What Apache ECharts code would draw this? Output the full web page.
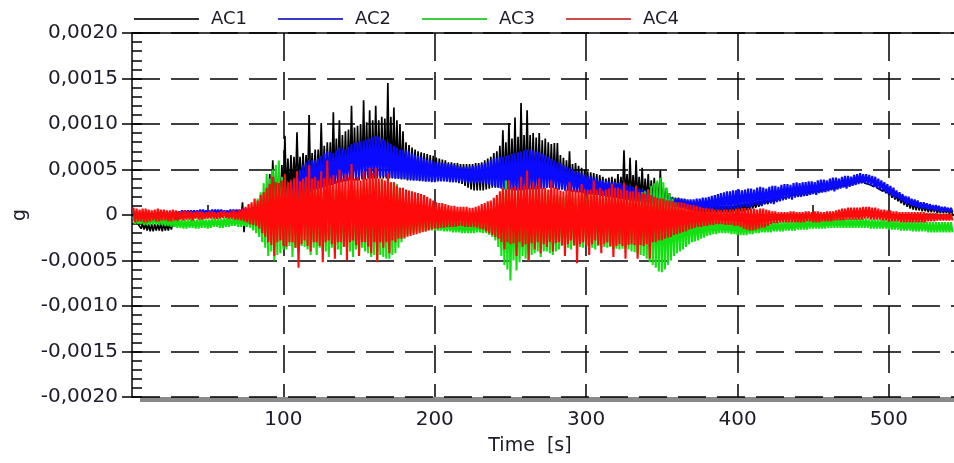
<!DOCTYPE html>
<html>
<head>
<meta charset="utf-8">
<script src="https://cdn.jsdelivr.net/npm/echarts@6/dist/echarts.min.js"></script>
<style>
  html, body { margin: 0; padding: 0; background: #fff; }
  #chart { width: 954px; height: 463px; }
</style>
</head>
<body>
<div id="chart"></div>
<script>
// Four accelerometer channels. Each trace is stored as an envelope sampled every 2 s
// starting at t = 1 s: the upper and lower extreme reached in that slot, in 1e-5 g.
// One row = 40 s.
const SAMPLE_START = 1;
const SAMPLE_STEP = 2;
const UNIT = 1e-5;

const ac1Hi = [
  2, -4, -8, -9, -9, -10, -10, -10, -10, -9, -9, -10, -9, -8, -3, -1, 0, 1, 1, 1,
  1, 1, 2, 2, 1, 1, 2, 2, 2, 2, 3, 3, 3, 3, 4, 4, 14, 4, 5, 6,
  8, 12, 15, 25, 30, 45, 60, 48, 50, 55, 87, 62, 66, 64, 91, 64, 68, 66, 110, 68,
  72, 72, 101, 76, 80, 80, 113, 84, 104, 88, 92, 94, 120, 96, 98, 100, 126, 102, 115, 104,
  120, 104, 108, 106, 145, 108, 118, 104, 100, 92, 80, 77, 74, 72, 70, 69, 68, 67, 66, 65,
  63, 62, 61, 60, 58, 58, 57, 57, 56, 56, 56, 56, 56, 57, 57, 58, 60, 62, 64, 68,
  70, 76, 93, 80, 101, 84, 107, 86, 123, 88, 115, 88, 90, 85, 90, 82, 84, 80, 78, 79,
  79, 66, 63, 60, 70, 56, 57, 54, 52, 50, 48, 47, 46, 45, 44, 42, 40, 41, 42, 40,
  45, 42, 71, 45, 63, 44, 60, 42, 52, 40, 45, 38, 41, 36, 49, 30, 30, 24, 20, 19,
  19, 18, 18, 16, 15, 13, 12, 11, 10, 10, 10, 10, 10, 10, 10, 10, 10, 10, 10, 11,
  12, 12, 13, 13, 14, 14, 15, 15, 16, 16, 17, 17, 18, 18, 19, 19, 20, 21, 22, 23,
  25, 25, 26, 26, 27, 27, 28, 28, 29, 30, 31, 31, 32, 33, 34, 34, 35, 36, 37, 37,
  38, 38, 37, 36, 35, 34, 32, 30, 29, 27, 26, 24, 22, 20, 19, 17, 16, 15, 14, 13,
  12, 11, 10, 10, 9, 9, 8, 8, 7, 7, 6
];
const ac1Lo = [
  -4, -10, -15, -16, -17, -18, -18, -17, -17, -18, -17, -17, -16, -13, -8, -4, -3, -2, -2, -2,
  -2, -2, -2, -2, -2, -1, -1, -1, -1, 0, 0, -1, -1, -2, -2, -3, -19, -2, -1, 0,
  0, 1, 2, 4, 5, 8, 10, 12, 15, 18, 20, 22, 25, 27, 28, 29, 30, 31, 32, 32,
  32, 33, 33, 34, 34, 35, 35, 36, 36, 37, 37, 38, 38, 38, 38, 39, 39, 40, 40, 40,
  40, 40, 40, 40, 40, 40, 40, 40, 39, 39, 38, 38, 38, 38, 37, 37, 37, 37, 36, 36,
  38, 38, 38, 37, 37, 36, 36, 35, 34, 32, 30, 28, 27, 27, 27, 27, 28, 29, 30, 30,
  30, 30, 30, 29, 28, 28, 28, 28, 28, 28, 29, 29, 29, 30, 30, 30, 30, 30, 30, 29,
  28, 28, 27, 27, 26, 26, 25, 25, 24, 24, 23, 23, 22, 22, 21, 21, 20, 20, 19, 19,
  18, 18, 17, 17, 16, 16, 15, 15, 14, 14, 13, 13, 12, 12, 11, 11, 10, 10, 9, 9,
  8, 8, 7, 6, 5, 4, 4, 3, 3, 3, 3, 3, 3, 3, 3, 3, 3, 3, 4, 4,
  4, 4, 5, 6, 7, 8, 9, 10, 12, 12, 13, 14, 15, 16, 17, 18, 19, 19, 20, 20,
  21, 21, 22, 23, 24, 24, 25, 25, 26, 27, 28, 28, 29, 30, 31, 31, 32, 33, 34, 35,
  35, 35, 34, 33, 31, 30, 28, 26, 24, 22, 19, 17, 15, 13, 11, 9, 7, 6, 5, 5,
  4, 4, 3, 3, 3, 2, 2, 2, 2, 1, 1
];

const ac2Hi = [
  2, 2, 2, 2, 3, 3, 2, 2, 3, 3, 3, 3, 3, 3, 4, 4, 5, 5, 5, 5,
  5, 5, 6, 6, 5, 5, 6, 6, 6, 6, 5, 5, 6, 6, 6, 6, 7, 7, 7, 8,
  8, 9, 10, 12, 14, 16, 18, 20, 22, 25, 28, 31, 35, 40, 45, 50, 55, 58, 60, 60,
  60, 62, 65, 68, 70, 69, 68, 71, 74, 73, 72, 75, 78, 79, 80, 81, 82, 83, 84, 86,
  87, 86, 84, 82, 80, 78, 76, 74, 72, 72, 71, 70, 68, 66, 65, 64, 62, 61, 60, 59,
  58, 58, 57, 57, 56, 56, 55, 54, 53, 53, 53, 53, 54, 54, 55, 56, 57, 58, 60, 62,
  63, 64, 64, 65, 66, 67, 68, 69, 70, 71, 72, 72, 71, 70, 69, 68, 66, 64, 62, 60,
  58, 57, 55, 53, 52, 50, 48, 47, 46, 44, 43, 42, 41, 40, 38, 38, 37, 37, 36, 36,
  35, 35, 34, 33, 32, 31, 30, 29, 28, 27, 26, 25, 24, 23, 22, 21, 20, 20, 19, 18,
  18, 18, 17, 17, 17, 17, 18, 18, 19, 19, 20, 21, 22, 23, 24, 25, 26, 26, 27, 27,
  28, 27, 28, 29, 29, 28, 30, 31, 30, 29, 31, 32, 32, 31, 33, 34, 34, 33, 35, 36,
  35, 36, 36, 37, 37, 36, 38, 39, 39, 38, 40, 41, 41, 40, 42, 43, 43, 42, 44, 45,
  46, 45, 45, 44, 43, 42, 40, 38, 36, 34, 32, 30, 27, 25, 23, 21, 20, 18, 17, 16,
  14, 14, 13, 12, 11, 11, 10, 9, 9, 8, 8
];
const ac2Lo = [
  -2, -2, -2, -2, -2, -2, -1, -1, -1, -1, -1, -1, 0, 0, 0, 0, 1, 1, 1, 1,
  1, 1, 1, 1, 1, 1, 1, 1, 1, 1, 1, 1, 1, 1, 2, 2, 2, 2, 2, 2,
  2, 1, 0, -1, -2, -1, 0, 1, 2, 3, 5, 7, 10, 12, 15, 17, 20, 22, 25, 27,
  28, 29, 30, 31, 32, 33, 34, 35, 36, 37, 38, 39, 40, 40, 40, 41, 42, 42, 42, 42,
  42, 42, 42, 42, 41, 41, 40, 40, 40, 40, 39, 39, 38, 38, 38, 38, 37, 37, 37, 37,
  37, 37, 37, 37, 36, 36, 36, 36, 36, 36, 35, 35, 35, 35, 35, 35, 34, 33, 32, 31,
  30, 29, 28, 28, 28, 27, 27, 27, 27, 28, 28, 28, 28, 28, 29, 29, 30, 30, 30, 29,
  28, 28, 27, 27, 26, 26, 25, 25, 24, 24, 23, 23, 22, 22, 21, 21, 20, 20, 19, 19,
  18, 18, 17, 17, 16, 16, 15, 15, 14, 14, 13, 13, 12, 12, 11, 11, 10, 10, 9, 9,
  8, 8, 7, 7, 6, 6, 6, 6, 5, 5, 5, 5, 5, 5, 6, 6, 6, 6, 7, 7,
  8, 9, 9, 8, 10, 11, 11, 10, 12, 13, 13, 12, 14, 15, 16, 17, 18, 17, 19, 20,
  20, 21, 21, 22, 23, 22, 24, 25, 25, 26, 27, 26, 28, 29, 30, 29, 31, 32, 33, 34,
  35, 35, 34, 33, 31, 30, 28, 27, 25, 23, 21, 19, 18, 16, 14, 12, 11, 10, 9, 8,
  7, 7, 6, 6, 5, 5, 4, 4, 4, 3, 3
];

const ac3Hi = [
  -2, -2, -3, -3, -3, -4, -4, -4, -3, -3, -4, -4, -4, -5, -5, -5, -5, -5, -5, -5,
  -5, -5, -4, -4, -5, -5, -4, -4, -4, -4, -3, -3, -3, -3, -2, -2, -2, -1, 0, 4,
  10, 18, 25, 35, 45, 40, 50, 55, 60, 42, 40, 32, 35, 30, 30, 28, 38, 30, 28, 30,
  30, 28, 25, 27, 35, 28, 28, 26, 30, 27, 25, 28, 30, 27, 28, 29, 32, 30, 30, 32,
  35, 36, 38, 34, 32, 36, 36, 34, 30, 22, 15, 10, 8, 6, 4, 3, 2, 1, 0, -2,
  -6, -6, -7, -7, -7, -8, -8, -8, -8, -8, -8, -7, -7, -6, -6, -5, -4, -2, 0, 4,
  10, 20, 30, 38, 35, 28, 25, 26, 28, 24, 20, 22, 30, 24, 22, 22, 26, 22, 20, 22,
  22, 20, 20, 22, 25, 20, 18, 20, 22, 20, 20, 21, 24, 20, 18, 19, 20, 21, 22, 20,
  20, 19, 18, 20, 22, 21, 20, 23, 25, 26, 28, 32, 35, 38, 41, 36, 30, 24, 18, 14,
  10, 8, 5, 3, 2, 0, -2, -3, -4, -5, -6, -6, -7, -7, -7, -8, -8, -8, -8, -9,
  -9, -9, -9, -10, -10, -10, -10, -9, -9, -9, -9, -8, -8, -8, -8, -7, -7, -7, -7, -6,
  -6, -6, -6, -5, -5, -5, -5, -5, -5, -4, -4, -4, -4, -4, -4, -4, -4, -4, -4, -4,
  -4, -4, -4, -5, -5, -5, -5, -5, -5, -6, -6, -6, -6, -7, -7, -7, -7, -7, -7, -7,
  -7, -7, -8, -8, -8, -8, -8, -8, -8, -8, -8
];
const ac3Lo = [
  -10, -10, -10, -11, -11, -11, -10, -10, -11, -11, -12, -12, -13, -13, -14, -14, -15, -15, -14, -14,
  -15, -15, -14, -14, -15, -14, -13, -13, -14, -14, -13, -13, -12, -12, -13, -13, -12, -13, -14, -17,
  -20, -24, -30, -36, -45, -40, -50, -44, -42, -38, -38, -34, -46, -36, -40, -34, -35, -38, -44, -36,
  -44, -36, -38, -40, -46, -36, -40, -38, -44, -35, -36, -40, -46, -38, -42, -36, -40, -42, -46, -44,
  -50, -44, -46, -48, -48, -44, -42, -36, -30, -26, -22, -21, -20, -19, -18, -18, -18, -17, -17, -17,
  -17, -17, -18, -18, -18, -19, -19, -19, -20, -20, -20, -20, -20, -19, -19, -20, -20, -22, -24, -28,
  -35, -45, -55, -60, -72, -50, -61, -52, -45, -48, -50, -44, -42, -40, -46, -40, -40, -42, -44, -40,
  -38, -34, -33, -36, -38, -34, -32, -35, -36, -34, -34, -36, -38, -34, -33, -35, -36, -35, -38, -37,
  -38, -37, -36, -38, -40, -41, -42, -44, -45, -48, -52, -55, -58, -62, -63, -60, -55, -50, -45, -42,
  -40, -38, -35, -32, -30, -29, -28, -26, -25, -23, -22, -21, -21, -20, -20, -20, -20, -21, -21, -22,
  -22, -22, -22, -21, -21, -20, -20, -19, -19, -19, -19, -18, -18, -18, -18, -17, -17, -17, -17, -16,
  -16, -16, -16, -15, -15, -15, -15, -15, -15, -14, -14, -14, -14, -14, -14, -14, -14, -14, -14, -14,
  -14, -14, -14, -15, -15, -15, -15, -15, -15, -16, -16, -16, -16, -17, -17, -17, -17, -18, -18, -18,
  -18, -18, -19, -19, -19, -19, -19, -19, -19, -19, -19
];

const ac4Hi = [
  8, 7, 6, 7, 7, 6, 5, 6, 7, 6, 6, 5, 5, 6, 5, 4, 4, 5, 4, 4,
  3, 4, 4, 3, 3, 4, 4, 3, 3, 4, 4, 3, 4, 5, 4, 6, 7, 9, 12, 14,
  18, 16, 22, 25, 30, 34, 42, 36, 35, 38, 45, 36, 38, 40, 48, 37, 40, 42, 55, 40,
  42, 38, 48, 40, 60, 40, 44, 38, 50, 40, 45, 42, 56, 40, 42, 38, 48, 40, 52, 46,
  52, 40, 40, 38, 46, 36, 36, 32, 30, 30, 28, 27, 26, 25, 24, 23, 22, 20, 18, 16,
  14, 13, 13, 12, 11, 10, 10, 9, 9, 9, 9, 8, 8, 9, 10, 12, 13, 15, 16, 19,
  22, 26, 30, 28, 38, 30, 32, 30, 42, 32, 49, 30, 36, 32, 40, 30, 30, 28, 38, 30,
  30, 27, 26, 28, 36, 28, 28, 27, 34, 28, 27, 28, 38, 28, 30, 27, 28, 29, 34, 30,
  30, 28, 35, 27, 26, 26, 32, 25, 24, 24, 28, 22, 20, 19, 18, 18, 16, 16, 15, 14,
  14, 14, 13, 12, 11, 11, 10, 9, 8, 8, 7, 7, 6, 6, 5, 6, 6, 6, 6, 7,
  7, 8, 8, 7, 7, 7, 6, 7, 7, 6, 5, 4, 4, 3, 3, 3, 3, 4, 4, 3,
  3, 3, 4, 4, 3, 4, 4, 3, 3, 4, 4, 4, 5, 6, 7, 7, 8, 8, 8, 8,
  8, 9, 9, 9, 8, 8, 7, 6, 6, 5, 5, 4, 4, 3, 3, 3, 3, 3, 3, 3,
  3, 3, 2, 2, 2, 2, 1, 1, 1, 1, 1
];
const ac4Lo = [
  -8, -7, -7, -8, -8, -7, -6, -7, -7, -6, -6, -7, -7, -6, -6, -5, -6, -5, -5, -6,
  -4, -5, -5, -4, -4, -4, -4, -4, -4, -3, -3, -4, -4, -5, -5, -6, -7, -8, -10, -11,
  -12, -15, -20, -24, -30, -33, -45, -30, -28, -34, -35, -30, -30, -36, -58, -32, -28, -34, -40, -30,
  -30, -34, -52, -30, -28, -32, -48, -30, -30, -35, -50, -30, -28, -33, -45, -30, -30, -35, -42, -30,
  -52, -30, -36, -30, -42, -28, -30, -26, -26, -25, -24, -23, -22, -21, -20, -19, -18, -17, -16, -15,
  -15, -14, -14, -13, -13, -13, -13, -12, -12, -13, -13, -13, -13, -14, -15, -16, -18, -20, -22, -24,
  -26, -30, -38, -30, -32, -31, -45, -30, -35, -32, -50, -31, -38, -30, -42, -32, -35, -30, -40, -31,
  -30, -33, -45, -32, -28, -33, -53, -32, -30, -34, -44, -32, -28, -33, -42, -32, -30, -34, -46, -34,
  -32, -34, -48, -33, -32, -33, -48, -33, -34, -32, -48, -30, -30, -28, -28, -26, -25, -24, -22, -21,
  -20, -19, -18, -16, -15, -14, -13, -13, -12, -12, -11, -11, -10, -10, -10, -11, -11, -11, -12, -12,
  -13, -15, -16, -17, -17, -16, -15, -14, -14, -12, -10, -9, -9, -8, -8, -8, -8, -8, -8, -8,
  -8, -8, -7, -7, -8, -8, -8, -7, -7, -7, -7, -6, -6, -6, -6, -5, -5, -5, -5, -5,
  -5, -4, -4, -5, -5, -5, -5, -6, -6, -7, -7, -7, -7, -8, -8, -8, -8, -8, -8, -8,
  -8, -8, -7, -7, -7, -6, -6, -6, -6, -6, -6
];

const seriesNames = ['AC1', 'AC2', 'AC3', 'AC4'];
const seriesColors = ['#000000', '#0a0aff', '#12e012', '#ff0a0a'];
const seriesWidths = [1.7, 2.1, 2.1, 2.1];
const legendColors = ['#303030', '#3a3ad0', '#3ccc3c', '#cc4a4a'];
const xMajorTicks = [100, 200, 300, 400, 500];
const xMinorTicks = [50, 150, 250, 350, 450];

// Turn an envelope into a dense zig-zag trace: upper extreme, then lower extreme half a slot later.
function trace(hi, lo) {
  const pts = [];
  for (let i = 0; i < hi.length; i++) {
    const t = SAMPLE_START + i * SAMPLE_STEP;
    pts.push([t, hi[i] * UNIT]);
    pts.push([t + SAMPLE_STEP / 2, lo[i] * UNIT]);
  }
  return pts;
}

const envelopes = [[ac1Hi, ac1Lo], [ac2Hi, ac2Lo], [ac3Hi, ac3Lo], [ac4Hi, ac4Lo]];
const FONT = 'DejaVu Sans';
const TEXT = '#1c1c2a';
const frameLine = { color: '#000', width: 1.5 };
const dashed = { color: '#000', width: 1.5, type: [28, 11] };

const chart = echarts.init(document.getElementById('chart'), null, { renderer: 'canvas' });

chart.setOption({
  animation: false,
  backgroundColor: '#ffffff',
  legend: {
    left: 129,
    top: 5,
    icon: 'rect',
    itemWidth: 65,
    itemHeight: 2,
    itemGap: 31,
    textStyle: { fontFamily: FONT, fontSize: 18, color: TEXT, padding: [3, 0, 0, 7] },
    data: seriesNames.map((n, i) => ({ name: n, itemStyle: { color: legendColors[i] } })),
    selectedMode: false
  },
  // White plot background whose drop shadow shows as the grey band under the time axis.
  grid: {
    left: 132,
    right: -2,
    top: 33,
    bottom: 66,
    show: true,
    backgroundColor: '#ffffff',
    borderWidth: 0,
    shadowColor: '#8a8a8a',
    shadowBlur: 0,
    shadowOffsetX: 8,
    shadowOffsetY: 5
  },
  xAxis: [
    {
      type: 'value',
      min: 0,
      max: 543,
      interval: 100,
      axisLine: { show: true, lineStyle: frameLine },
      axisTick: { show: true, inside: false, length: 10, customValues: xMajorTicks, lineStyle: frameLine },
      axisLabel: {
        customValues: xMajorTicks,
        fontFamily: FONT, fontSize: 20, color: TEXT, margin: 13
      },
      splitLine: { show: true, lineStyle: dashed },
      name: 'Time  [s]',
      nameLocation: 'middle',
      nameGap: 40,
      nameTextStyle: { fontFamily: FONT, fontSize: 19, color: TEXT, padding: [0, 26, 0, 0] }
    },
    {
      type: 'value',
      min: 0,
      max: 543,
      position: 'bottom',
      axisLine: { show: false },
      axisTick: { show: true, inside: true, length: 10, customValues: xMinorTicks, lineStyle: frameLine },
      axisLabel: { show: false },
      splitLine: { show: false }
    },
    {
      // top frame edge
      type: 'value',
      min: 0,
      max: 543,
      position: 'top',
      axisLine: { show: true, lineStyle: frameLine },
      axisTick: { show: false },
      axisLabel: { show: false },
      splitLine: { show: false }
    }
  ],
  yAxis: [
    {
      type: 'value',
      min: -0.002,
      max: 0.002,
      interval: 0.0005,
      axisLine: { show: true, lineStyle: frameLine },
      axisTick: { show: true, inside: false, length: 10, lineStyle: frameLine },
      axisLabel: {
        fontFamily: FONT, fontSize: 20, color: TEXT, margin: 14,
        formatter: v => (Math.abs(v) < 1e-12 ? '0' : v.toFixed(4).replace('.', ','))
      },
      splitLine: { show: true, lineStyle: dashed },
      name: 'g',
      nameLocation: 'middle',
      nameGap: 100,
      nameRotate: 90,
      nameTextStyle: { fontFamily: FONT, fontSize: 19, color: TEXT }
    },
    {
      type: 'value',
      position: 'left',
      min: -0.002,
      max: 0.002,
      interval: 0.0001,
      axisLine: { show: false },
      axisTick: { show: true, inside: true, length: 10, lineStyle: frameLine },
      axisLabel: { show: false },
      splitLine: { show: false }
    }
  ],
  series: envelopes.map(([hi, lo], i) => ({
    name: seriesNames[i],
    type: 'line',
    xAxisIndex: 0,
    yAxisIndex: 0,
    data: trace(hi, lo),
    showSymbol: false,
    symbol: 'none',
    silent: true,
    clip: true,
    lineStyle: { color: seriesColors[i], width: seriesWidths[i], join: 'bevel' },
    itemStyle: { color: seriesColors[i] }
  }))
});
</script>
</body>
</html>
